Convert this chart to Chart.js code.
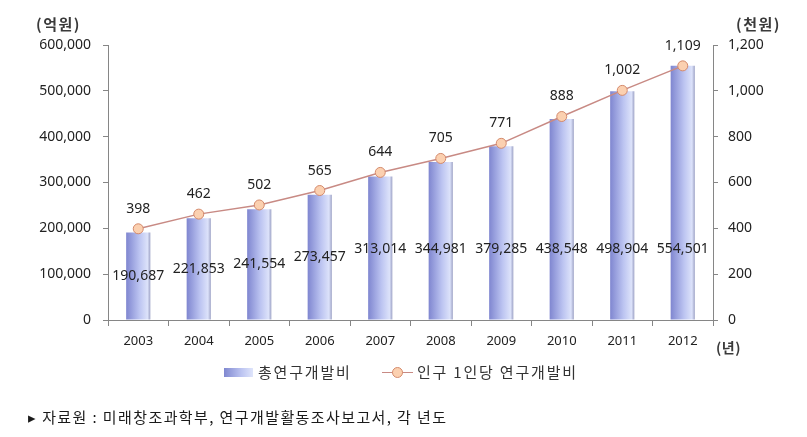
<!DOCTYPE html>
<html>
<head>
<meta charset="utf-8">
<script src="https://cdn.jsdelivr.net/npm/chart.js@4"></script>
<style>
  body { margin: 0; background: #fff; font-family: "Noto Sans CJK KR", sans-serif; }
  #wrap { position: relative; width: 807px; height: 437px; }
  .lbl { position: absolute; color: #222; white-space: nowrap; line-height: 1; }
  .ttl { font-size: 15px; font-weight: bold; color: #3a3a3a; letter-spacing: 1.5px; }
  .leg { position: absolute; top: 364px; font-size: 15px; color: #333; line-height: 1; white-space: nowrap; letter-spacing: 1.8px; }
  .sw-bar { position: absolute; left: 224px; top: 368px; width: 29px; height: 9px;
            background: linear-gradient(to right, #8088d0, #bcc4f1 60%, #dfe5fb); }
  .sw-line { position: absolute; left: 382px; top: 372px; width: 31px; border-top: 1.5px solid #c88a84; }
  .sw-dot { position: absolute; left: 392px; top: 367px; width: 9px; height: 9px; border-radius: 50%;
            background: #fbd0b0; border: 1px solid #d48a6c; }
</style>
</head>
<body>
<div id="wrap">
  <canvas id="chart" width="807" height="437"></canvas>
  <div class="lbl ttl" style="left:36px;top:16px">(억원)</div>
  <div class="lbl ttl" style="left:736px;top:16px">(천원)</div>
  <div class="lbl ttl" style="left:716px;top:340px;font-size:14px;letter-spacing:0.5px">(년)</div>
  <div class="sw-bar"></div>
  <div class="leg" style="left:258px">총연구개발비</div>
  <div class="sw-line"></div>
  <div class="sw-dot"></div>
  <div class="leg" style="left:417px">인구 1인당 연구개발비</div>
  <div class="lbl" style="left:28px;top:409px;font-size:15px;color:#1a1a1a;letter-spacing:1.4px">▸ 자료원 : 미래창조과학부, 연구개발활동조사보고서, 각 년도</div>
</div>
<script>
    // chart values
    const years = ["2003", "2004", "2005", "2006", "2007", "2008", "2009", "2010", "2011", "2012"];
    const totalRnd = [190687, 221853, 241554, 273457, 313014, 344981, 379285, 438548, 498904, 554501];
    const perCapita = [398, 462, 502, 565, 644, 705, 771, 888, 1002, 1109];

    const axisColor = "#868686";
    const numFont = "'Noto Sans', sans-serif";

    // horizontal gradient for each bar
    function barFill(c) {
        const chart = c.chart;
        if (!chart.chartArea) return "#aab0e8";
        const xs = chart.scales.x;
        const cx = xs.getPixelForValue(c.dataIndex);
        const w = xs.width / years.length * 0.4;
        const g = chart.ctx.createLinearGradient(cx - w / 2, 0, cx + w / 2, 0);
        g.addColorStop(0, "#7f86d0");
        g.addColorStop(0.55, "#bcc4f1");
        g.addColorStop(0.88, "#dce2fa");
        g.addColorStop(1, "#9ea3c6");
        return g;
    }

    // value labels for bars and line points
    const valueLabels = {
        id: "valueLabels",
        afterDatasetsDraw(chart) {
            const ctx = chart.ctx;
            ctx.save();
            ctx.font = "14px " + numFont;
            ctx.fillStyle = "#222";
            ctx.textAlign = "center";
            ctx.textBaseline = "middle";
            const floorY = chart.scales.y.getPixelForValue(155000);
            chart.getDatasetMeta(1).data.forEach((bar, i) => {
                const mid = (bar.y + bar.base) / 2;
                ctx.fillText(totalRnd[i].toLocaleString("en-US"), bar.x, Math.max(mid, floorY));
            });
            chart.getDatasetMeta(0).data.forEach((pt, i) => {
                ctx.fillText(perCapita[i].toLocaleString("en-US"), pt.x, pt.y - 20);
            });
            ctx.restore();
        }
    };

    const ctx = document.getElementById("chart").getContext("2d");
    new Chart(ctx, {
        data: {
            labels: years,
            datasets: [
                {
                    type: "line",
                    label: "인구 1인당 연구개발비",
                    data: perCapita,
                    yAxisID: "y1",
                    borderColor: "#c88a84",
                    borderWidth: 1.5,
                    pointRadius: 5,
                    pointBackgroundColor: "#fbd0b0",
                    pointBorderColor: "#d48a6c",
                    pointBorderWidth: 1,
                    tension: 0,
                    order: 0
                },
                {
                    type: "bar",
                    label: "총연구개발비",
                    data: totalRnd,
                    yAxisID: "y",
                    backgroundColor: barFill,
                    categoryPercentage: 1,
                    barPercentage: 0.4,
                    order: 1
                }
            ]
        },
        options: {
            responsive: false,
            animation: false,
            layout: { padding: { left: 0, right: 0, top: 45, bottom: 87 } },
            plugins: { legend: { display: false }, tooltip: { enabled: false } },
            scales: {
                x: {
                    grid: { offset: true, drawOnChartArea: false, drawTicks: true, tickLength: 6, color: axisColor },
                    border: { color: axisColor },
                    ticks: { font: { family: numFont, size: 13 }, color: "#222", padding: 7 },
                    afterFit: (s) => { s.height = 30; }
                },
                y: {
                    position: "left",
                    min: 0, max: 600000,
                    grid: { drawOnChartArea: false, tickLength: 5, color: axisColor },
                    border: { color: axisColor },
                    ticks: {
                        stepSize: 100000, font: { family: numFont, size: 14 }, color: "#222", padding: 12,
                        callback: (v) => v.toLocaleString("en-US")
                    },
                    afterFit: (s) => { s.width = 108; }
                },
                y1: {
                    position: "right",
                    min: 0, max: 1200,
                    grid: { drawOnChartArea: false, tickLength: 5, color: axisColor },
                    border: { color: axisColor },
                    ticks: {
                        stepSize: 200, font: { family: numFont, size: 14 }, color: "#222", padding: 10,
                        callback: (v) => v.toLocaleString("en-US")
                    },
                    afterFit: (s) => { s.width = 94; }
                }
            }
        },
        plugins: [valueLabels]
    });
</script>
</body>
</html>
